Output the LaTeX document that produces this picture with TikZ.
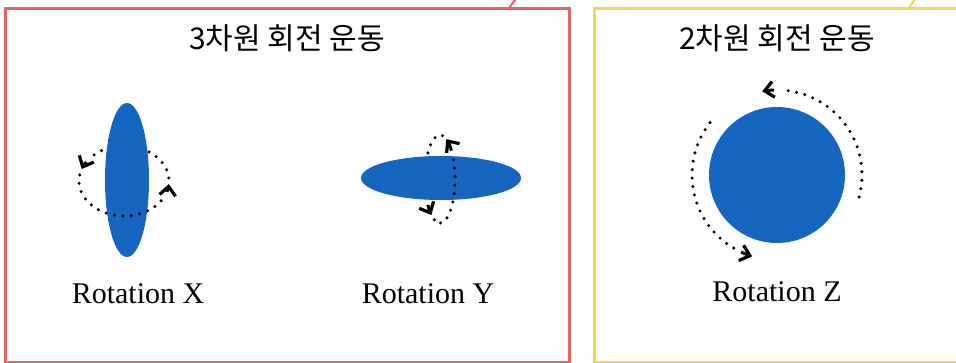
\documentclass[tikz,border=0pt]{standalone}
\usepackage{fontspec}
\setmainfont{Liberation Serif}
\newfontfamily\krfont{Noto Sans CJK KR}
\usetikzlibrary{arrows.meta}
\definecolor{panelred}{HTML}{E2626C}
\definecolor{panelyellow}{HTML}{F0D65A}
\definecolor{disc}{HTML}{1665C0}

\begin{document}
\begin{tikzpicture}[
  x=1pt, y=-1pt,
  panel/.style={draw=#1, line width=3pt},
  heading/.style={font=\krfont\fontsize{30}{34}\selectfont, inner sep=0pt},
  caption/.style={font=\fontsize{30}{34}\selectfont, inner sep=0pt},
  spin/.style={line width=3.4pt, line cap=round, dash pattern=on 0pt off 8.5pt},
  stem/.style={line width=3pt, -{Straight Barb[length=9pt, width=16pt, line width=3.2pt]}},
]
  \useasboundingbox (0,0) rectangle (956,362);
  \clip (0,0) rectangle (956,362);

  % Panels
  \draw[panel=panelred] (5,8) rectangle (569,362.5);
  \draw[panel=panelred, line width=2pt] (509,8) -- (516,-1);
  \draw[panel=panelyellow] (594,8) rectangle (965,362.5);
  \draw[panel=panelyellow, line width=2pt] (909,8) -- (915,-1);

  % Headings
  \node[heading] (head3d) at (287,38) {3차원 회전 운동};
  \node[heading] (head2d) at (777,38) {2차원 회전 운동};

  % Rotation X
  \fill[disc] (127,180) ellipse [x radius=22, y radius=77];
  \draw[spin] (124,181) ++(-120:45 and 35) arc[start angle=-120, end angle=-142, x radius=45, y radius=35];
  \draw[stem] (124,181) ++(-147:45 and 35) arc[start angle=-147, end angle=-160, x radius=45, y radius=35];
  \draw[spin] (124,181) ++(-170:45 and 35) arc[start angle=-170, end angle=-338, x radius=45, y radius=35];
  \draw[stem] (124,181) ++(-342:45 and 35) arc[start angle=-342, end angle=-355, x radius=45, y radius=35];
  \draw[spin] (124,181) ++(-365:45 and 35) arc[start angle=-365, end angle=-418, x radius=45, y radius=35];

  % Rotation Y (back half first, then disc, then front half)
  \draw[spin] (440,179) ++(-190:15 and 44) arc[start angle=-190, end angle=-210, x radius=15, y radius=44];
  \draw[stem] (440,179) ++(-216:15 and 44) arc[start angle=-216, end angle=-235, x radius=15, y radius=44];
  \draw[spin] (440,179) ++(-248:15 and 44) arc[start angle=-248, end angle=-262, x radius=15, y radius=44];
  \draw[spin] (440,179) ++(-440:15 and 44) arc[start angle=-440, end angle=-530, x radius=15, y radius=44];
  \fill[disc] (441,178) ellipse [x radius=80, y radius=22];
  \draw[spin] (440,179) ++(-272:15 and 44) arc[start angle=-272, end angle=-392, x radius=15, y radius=44];
  \draw[stem] (440,179) ++(-400:15 and 44) arc[start angle=-400, end angle=-425, x radius=15, y radius=44];

  % Rotation Z
  \fill[disc] (777,175) circle [radius=68];
  \draw[spin] (777,175) ++(15:85) arc[start angle=15, end angle=-87, radius=85];
  \draw[stem] (777,175) ++(-92:85) arc[start angle=-92, end angle=-100, radius=85];
  \draw[spin] (777,175) ++(-142:85) arc[start angle=-142, end angle=-240, radius=85];
  \draw[stem] (777,175) ++(-245:85) arc[start angle=-245, end angle=-253, radius=85];

  % Captions
  \node[caption] (rotx) at (138,294) {Rotation X};
  \node[caption] (roty) at (428,294) {Rotation Y};
  \node[caption] (rotz) at (777,292) {Rotation Z};
\end{tikzpicture}
\end{document}
